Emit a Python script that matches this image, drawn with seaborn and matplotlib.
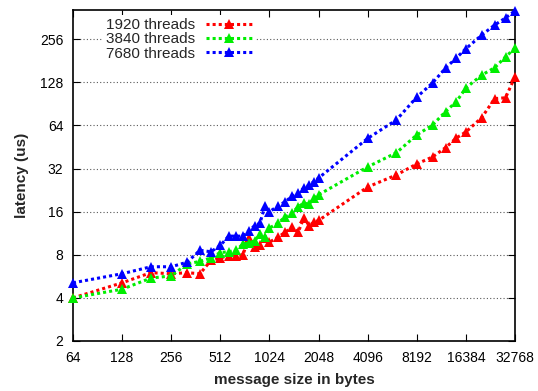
import numpy as np
import pandas as pd
import matplotlib
matplotlib.use("Agg")
import matplotlib.pyplot as plt
import matplotlib.ticker as ticker
import seaborn as sns

sns.set_style("ticks")
plt.rcParams['font.family'] = ['Liberation Sans', 'DejaVu Sans']

# message sizes (bytes)
sizes = [64, 128, 192, 256, 320, 384, 448, 512, 576, 640, 704, 768, 832, 896, 960, 1024,
         1152, 1280, 1408, 1536, 1664, 1792, 1920, 2048,
         4096, 6144, 8192, 10240, 12288, 14336, 16384, 20480, 24576, 28672, 32768]

# latency (us)
lat_1920 = [4.0, 5.1, 6.0, 5.9, 6.0, 5.9, 7.3, 7.6, 7.9, 7.9, 8.0, 10.5, 9.0, 9.3, 10.5, 9.8,
            10.6, 11.5, 12.5, 11.5, 14.5, 12.8, 13.5, 13.9,
            23.8, 28.9, 34.5, 38.6, 44.8, 52.4, 57.7, 72.6, 98.5, 100.0, 140.0]
lat_3840 = [4.0, 4.6, 5.5, 5.7, 6.9, 7.2, 7.6, 8.3, 8.4, 8.6, 9.5, 9.7, 10.0, 11.2, 10.6, 12.3,
            13.3, 14.7, 15.7, 17.3, 18.4, 18.0, 20.0, 21.0,
            32.9, 41.3, 55.0, 64.5, 80.0, 94.0, 117.0, 144.0, 162.0, 193.0, 222.0]
lat_7680 = [5.1, 5.9, 6.6, 6.6, 7.1, 8.6, 8.4, 9.3, 10.8, 10.8, 10.8, 11.8, 12.8, 13.3, 17.5, 16.0,
            17.5, 18.8, 20.5, 21.5, 23.5, 24.5, 26.0, 27.5,
            52.0, 70.0, 101.0, 127.0, 161.0, 190.0, 220.0, 274.0, 322.0, 361.0, 405.0]

series = ['1920 threads', '3840 threads', '7680 threads']
colors = ['#ff0000', '#00ee00', '#0000ff']

df = pd.DataFrame({
    'size': sizes * 3,
    'latency': lat_1920 + lat_3840 + lat_7680,
    'threads': np.repeat(series, len(sizes)),
})

fig = plt.figure(figsize=(5.38, 3.91), dpi=100)
ax = fig.add_axes([73/538, 1 - 341/391, (515 - 73)/538, (341 - 10)/391])

for name, col in zip(series, colors):
    sub = df[df['threads'] == name]
    sns.lineplot(data=sub, x='size', y='latency', ax=ax, color=col, label=name,
                 estimator=None, sort=False, linestyle=(0, (1, 1)), linewidth=2.2,
                 marker='^', markersize=7.5, markeredgewidth=0, clip_on=False, zorder=3)

ax.set_xscale('log', base=2)
ax.set_yscale('log', base=2)
ax.set_xlim(64, 32768)
ax.set_ylim(2, 410)

xt = [64, 128, 256, 512, 1024, 2048, 4096, 8192, 16384, 32768]
yt = [2, 4, 8, 16, 32, 64, 128, 256]
ax.xaxis.set_major_locator(ticker.FixedLocator(xt))
ax.yaxis.set_major_locator(ticker.FixedLocator(yt))
ax.xaxis.set_minor_locator(ticker.NullLocator())
ax.yaxis.set_minor_locator(ticker.NullLocator())
ax.xaxis.set_major_formatter(ticker.FuncFormatter(lambda v, p: f'{int(round(v))}'))
ax.yaxis.set_major_formatter(ticker.FuncFormatter(lambda v, p: f'{int(round(v))}'))
ax.tick_params(direction='in', length=5, width=0.8, top=True, right=True,
               labelsize=10, colors='black', pad=7)

for s in ax.spines.values():
    s.set_linewidth(1.2)
    s.set_color('black')

ax.yaxis.grid(True, color='0.35', linestyle=(0, (1, 2)), linewidth=0.8)
ax.xaxis.grid(False)
ax.set_axisbelow(True)

ax.set_xlabel('message size in bytes', fontsize=11, fontweight='bold', labelpad=6)
ax.set_ylabel('latency (us)', fontsize=11, fontweight='bold', labelpad=8)

leg = ax.legend(loc='upper left', bbox_to_anchor=(0.068, 0.985), borderaxespad=0,
                markerfirst=False, frameon=True, fontsize=11, handlelength=3.0,
                handletextpad=0.7, labelspacing=0.02, borderpad=0.2)
leg.get_frame().set_facecolor('white')
leg.get_frame().set_edgecolor('none')
leg.get_frame().set_alpha(1)
leg.set_zorder(5)

fig.savefig('out.png', dpi=100)
